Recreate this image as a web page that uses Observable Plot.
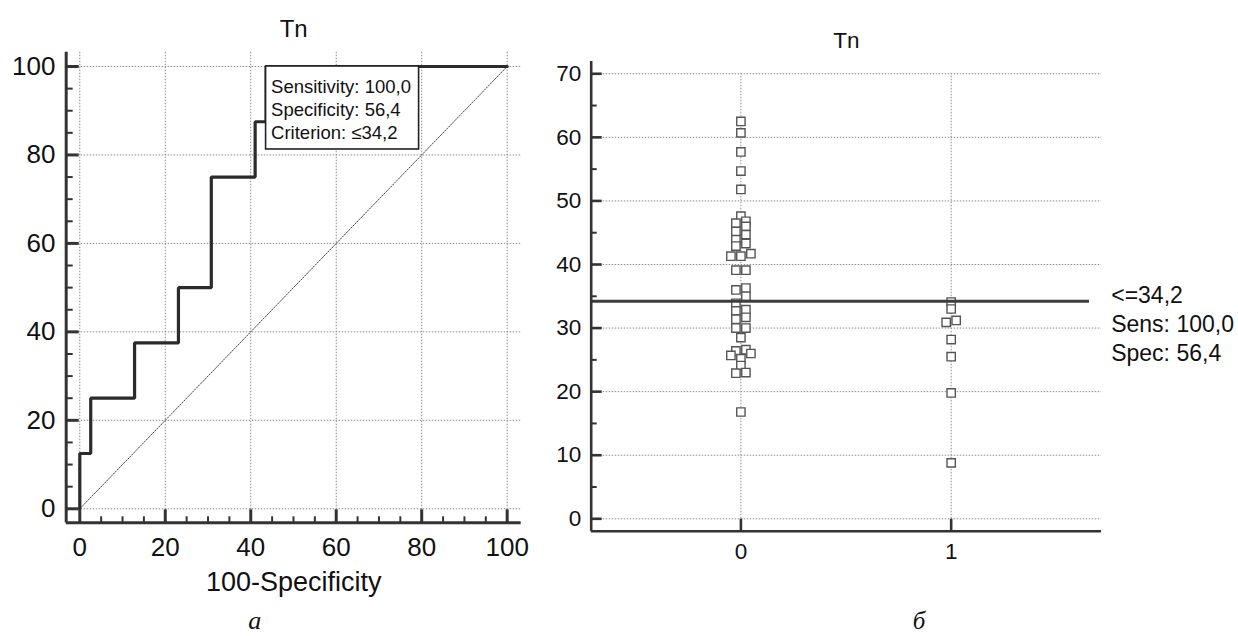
<!DOCTYPE html>
<html>
<head>
<meta charset="utf-8">
<script src="https://cdn.jsdelivr.net/npm/d3@7"></script>
<script src="https://cdn.jsdelivr.net/npm/@observablehq/plot@0.6"></script>
<style>
  html, body { margin: 0; padding: 0; background: #fff; }
  #wrap { position: relative; width: 1238px; height: 636px; overflow: hidden; background: #fff; }
  #left, #right { position: absolute; top: 0; }
  #left { left: 0; }
  #right { left: 540px; }
</style>
</head>
<body>
<div id="wrap"><div id="left"></div><div id="right"></div></div>
<script>
// ---------- data: ROC curve (panel а) ----------
const rocFpr  = [0, 0, 2.56, 2.56, 12.82, 12.82, 23.08, 23.08, 30.77, 30.77, 41.03, 41.03, 43.59, 43.59, 100];
const rocSens = [0, 12.5, 12.5, 25, 25, 37.5, 37.5, 50, 50, 75, 75, 87.5, 87.5, 100, 100];
const diagX = [0, 100];
const diagY = [0, 100];
const rocTicks = [0, 20, 40, 60, 80, 100];
const rocMinor = [5, 10, 15, 25, 30, 35, 45, 50, 55, 65, 70, 75, 85, 90, 95];
const critFpr = 43.59, critSens = 100;
const legendLines = ["Sensitivity: 100,0", "Specificity: 56,4", "Criterion: \u226434,2"];
const rocTitle = "Tn";
const rocXLabel = "100-Specificity";
const captionA = "\u0430";

// ---------- data: dot plot (panel б) ----------
const group0Values = [62.5, 60.7, 57.7, 54.7, 51.8, 47.6, 46.5, 46.8, 46.0, 45.2, 44.7, 43.9, 42.9, 43.3,
  41.3, 41.3, 41.7, 39.1, 39.1, 36.0, 36.3, 35.0, 33.9, 32.7, 32.9, 31.4, 31.7, 30.0, 30.0, 28.5,
  26.4, 26.6, 26.0, 25.7, 25.2, 24.1, 22.9, 23.0, 16.8];
const group0Slots = [0, 0, 0, 0, 0, 0, -1, 1, 1, -1, 1, -1, -1, 1,
  -2, 0, 2, -1, 1, -1, 1, 1, -1, -1, 1, -1, 1, -1, 1, 0,
  -1, 1, 2, -2, 0, 0, -1, 1, 0];
const group1Values = [34.1, 33.0, 30.9, 31.2, 28.2, 25.5, 19.8, 8.8];
const group1Slots  = [0, 0, -1, 1, 0, 0, 0, 0];
const groups = [0, 1];
const dotTicks = [0, 10, 20, 30, 40, 50, 60, 70];
const dotMinor = [5, 15, 25, 35, 45, 55, 65];
const criterion = 34.2;
const critLines = ["<=34,2", "Sens: 100,0", "Spec: 56,4"];
const dotTitle = "Tn";
const captionB = "\u0431";

// ---------- styles ----------
const SANS = "'Liberation Sans', Arial, sans-serif";
const SERIF = "'Liberation Serif', 'Times New Roman', serif";
const AX = "#333";
const GRID = "#8c8c8c";

// ---------- panel а ----------
const roc = rocFpr.map((f, i) => ({fpr: f, sens: rocSens[i]}));
const diag = diagX.map((x, i) => ({x, y: diagY[i]}));
const rocXDomain = [-3.18, 103.28];
const rocYDomain = [-3.17, 103.23];

const left = Plot.plot({
  width: 540, height: 636,
  marginLeft: 65.7, marginRight: 19.3, marginTop: 51.7, marginBottom: 113.7,
  style: {fontFamily: SANS, color: "#111", background: "#fff", overflow: "visible"},
  x: {domain: rocXDomain, label: null},
  y: {domain: rocYDomain, label: null},
  marks: [
    Plot.gridX(rocTicks, {stroke: GRID, strokeOpacity: 1, strokeWidth: 1, strokeDasharray: "1.5,1.5"}),
    Plot.gridY(rocTicks, {stroke: GRID, strokeOpacity: 1, strokeWidth: 1, strokeDasharray: "1.5,1.5"}),
    Plot.line(diag, {x: "x", y: "y", stroke: "#444", strokeWidth: 1, strokeDasharray: "1.5,1.5"}),
    Plot.line(roc, {x: "fpr", y: "sens", stroke: "#2b2b2b", strokeWidth: 3.2, strokeLinejoin: "miter"}),
    Plot.rect([{fpr: critFpr, sens: critSens}], {x1: "fpr", x2: "fpr", y1: "sens", y2: "sens",
      insetRight: -153, insetBottom: -83, fill: "#fff", stroke: "#222", strokeWidth: 1.6}),
    Plot.text([{fpr: critFpr, sens: critSens}], {x: "fpr", y: "sens", text: () => legendLines.join("\n"),
      textAnchor: "start", lineAnchor: "bottom", lineHeight: 1.243, dx: 5, dy: 72.5,
      fontSize: 18.5, fill: "#111"}),
    Plot.ruleX([rocXDomain[0]], {stroke: AX, strokeWidth: 3}),
    Plot.ruleY([rocYDomain[0]], {stroke: AX, strokeWidth: 3}),
    Plot.axisX({ticks: rocTicks, tickSize: -13, tickPadding: 27.7, fontSize: 26, stroke: AX, strokeWidth: 3, label: null, tickFormat: d => String(d)}),
    Plot.axisX({ticks: rocMinor, tickSize: -6, tickFormat: () => "", stroke: AX, strokeWidth: 2, label: null}),
    Plot.axisY({ticks: rocTicks, tickSize: -13, tickPadding: 23.7, fontSize: 26, stroke: AX, strokeWidth: 3, label: null, tickFormat: d => String(d)}),
    Plot.axisY({ticks: rocMinor, tickSize: -7, tickFormat: () => "", stroke: AX, strokeWidth: 2, label: null}),
    Plot.text([rocXLabel], {frameAnchor: "bottom", dy: 67.7, lineAnchor: "bottom", fontSize: 27, fill: "#111"}),
    Plot.text([rocTitle], {frameAnchor: "top", dy: -15.7, lineAnchor: "bottom", fontSize: 24, fill: "#111"}),
    Plot.text([captionA], {frameAnchor: "bottom", dx: -39, dy: 106, lineAnchor: "bottom", fontSize: 26,
      fontFamily: SERIF, fontStyle: "italic", fill: "#111"})
  ]
});
document.getElementById("left").appendChild(left);

// ---------- panel б ----------
const dotXDomain = [-0.712, 1.715];
const dotYDomain = [-1.95, 71.93];
const frameW = 698 - 50.7 - 137;
const slotW = 5 * (dotXDomain[1] - dotXDomain[0]) / frameW; // 5 px per jitter slot
const points = [
  ...group0Values.map((v, i) => ({g: 0, v, s: group0Slots[i]})),
  ...group1Values.map((v, i) => ({g: 1, v, s: group1Slots[i]}))
];

const right = Plot.plot({
  width: 698, height: 636,
  marginLeft: 50.7, marginRight: 137, marginTop: 61, marginBottom: 105.3,
  style: {fontFamily: SANS, color: "#111", background: "#fff", overflow: "visible"},
  x: {domain: dotXDomain, label: null},
  y: {domain: dotYDomain, label: null},
  marks: [
    Plot.gridY(dotTicks, {stroke: GRID, strokeOpacity: 1, strokeWidth: 1, strokeDasharray: "1.5,1.5"}),
    Plot.ruleX(groups, {y1: dotTicks[0], y2: dotTicks[dotTicks.length - 1], stroke: GRID, strokeWidth: 1, strokeDasharray: "1.5,1.5"}),
    Plot.dot(points, {x: d => d.g + d.s * slotW, y: "v", symbol: "square", r: 4.7,
      fill: "#fff", stroke: "#555", strokeWidth: 1.4}),
    Plot.ruleY([criterion], {stroke: "#3d3d3d", strokeWidth: 3, insetRight: 12}),
    Plot.text([criterion], {y: d => d, frameAnchor: "right", text: () => critLines.join("\n"),
      textAnchor: "start", lineAnchor: "bottom", lineHeight: 1.261, dx: 9.7, dy: 60.1,
      fontSize: 23, fill: "#111"}),
    Plot.ruleX([dotXDomain[0]], {stroke: AX, strokeWidth: 2.6}),
    Plot.ruleY([dotYDomain[0]], {stroke: AX, strokeWidth: 2.6}),
    Plot.axisX({ticks: groups, tickSize: -12, tickPadding: 24, fontSize: 22.5, stroke: AX, strokeWidth: 2.6, label: null, tickFormat: d => String(d)}),
    Plot.axisY({ticks: dotTicks, tickSize: -11, tickPadding: 21, fontSize: 22.5, stroke: AX, strokeWidth: 2.6, label: null, tickFormat: d => String(d)}),
    Plot.axisY({ticks: dotMinor, tickSize: -6, tickFormat: () => "", stroke: AX, strokeWidth: 2, label: null}),
    Plot.text([dotTitle], {frameAnchor: "top", dy: -14, lineAnchor: "bottom", fontSize: 22.5, fill: "#111"}),
    Plot.text([captionB], {frameAnchor: "bottom", dx: 72.7, dy: 98, lineAnchor: "bottom", fontSize: 25,
      fontFamily: SERIF, fontStyle: "italic", fill: "#111"})
  ]
});
document.getElementById("right").appendChild(right);
</script>
</body>
</html>
